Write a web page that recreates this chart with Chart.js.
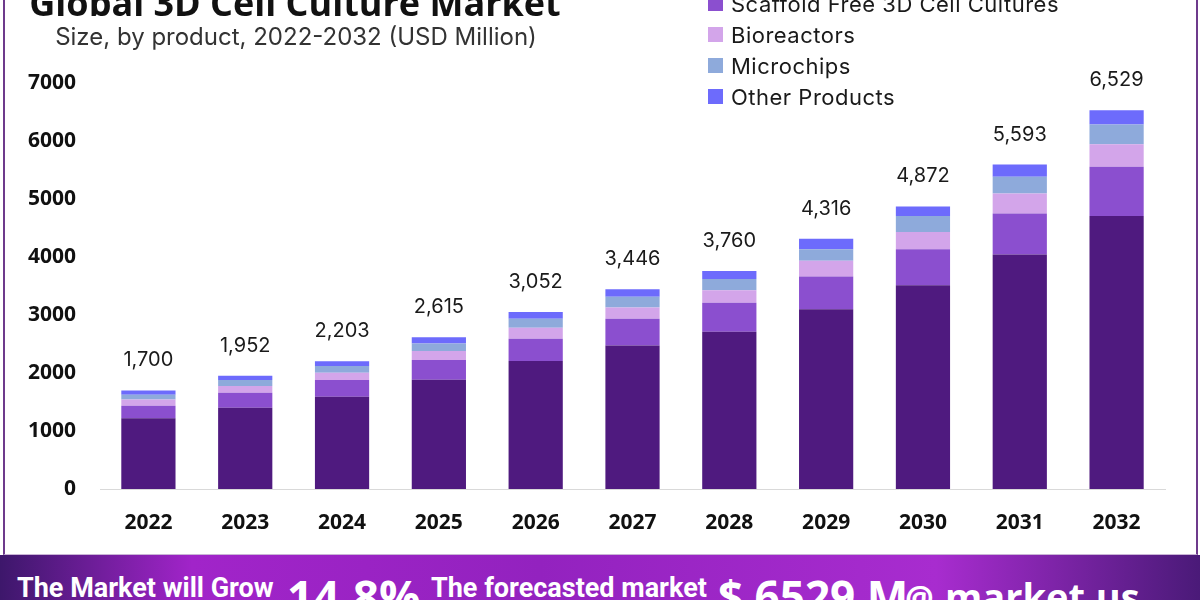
<!DOCTYPE html>
<html>
<head>
<meta charset="utf-8">
<script src="https://cdn.jsdelivr.net/npm/chart.js@4.4.1/dist/chart.umd.min.js"></script>
<style>
  html, body { margin: 0; padding: 0; background: #fff; }
  body { width: 1200px; height: 600px; position: relative; overflow: hidden; }
  #frame { position: absolute; left: 3px; top: 0; width: 1191px; height: 554px;
           border-left: 2px solid #6e3a8c; border-right: 2px solid #6e3a8c;
           border-bottom: 1px solid #c9b4d6; }
  #wrap { position: absolute; left: 0; top: 0; width: 1200px; height: 555px; }
  #title { position: absolute; left: 0; width: 590px; top: -22px; text-align: center;
           font: 700 36px "Open Sans", sans-serif; color: #111; white-space: nowrap; }
  #subtitle { position: absolute; left: 0; width: 592px; top: 22px; text-align: center;
              font: 400 24px Inter, sans-serif; color: #333; white-space: nowrap; }
  #legend { position: absolute; left: 708px; top: -43px; }
  .item { height: 31px; display: flex; align-items: center; letter-spacing: 0.5px;
          font: 400 22px Inter, sans-serif; color: #1a1a1a; white-space: nowrap; }
  .sw { width: 15px; height: 15px; margin-right: 8px; }
  #band { position: absolute; left: 0; top: 555px; width: 1200px; height: 45px; overflow: hidden;
          background: linear-gradient(90deg, #3d176b 0%, #a124c9 16%, #9322bf 45%, #a82ccf 78%, #4a1a78 100%); }
  #band span { position: absolute; color: #fff; font-weight: 700; white-space: nowrap; }
</style>
</head>
<body>
<div id="frame"></div>
<div id="wrap"><canvas id="chart" width="1200" height="555"></canvas></div>
<div id="title">Global 3D Cell Culture Market</div>
<div id="subtitle">Size, by product, 2022-2032 (USD Million)</div>
<div id="legend"></div>
<div id="band">
  <span style="left:17px; top:17px; font-family:'Liberation Sans Narrow','Roboto',sans-serif; font-size:27px;">The Market will Grow</span>
  <span style="left:287px; top:18px; font-family:'Open Sans',sans-serif; font-size:46px; line-height:46px;">14.8%</span>
  <span style="left:431px; top:17px; font-family:'Liberation Sans Narrow','Roboto',sans-serif; font-size:27px;">The forecasted market</span>
  <span style="left:718px; top:18px; font-family:'Open Sans',sans-serif; font-size:44px; line-height:46px;">$ 6529 M</span>
  <span style="left:905px; top:20px; font-family:'Open Sans',sans-serif; font-size:32px;">@</span>
  <span style="left:945px; top:15px; font-family:'Open Sans',sans-serif; font-size:38px;">market.us</span>
</div>
<script>
// categories
const years = ['2022', '2023', '2024', '2025', '2026', '2027', '2028', '2029', '2030', '2031', '2032'];

// series (USD Million)
const scaffoldBased = [1220, 1400, 1590, 1885, 2205, 2475, 2713, 3100, 3515, 4045, 4705];
const scaffoldFree  = [215, 260, 290, 340, 385, 460, 500, 565, 620, 705, 850];
const bioreactors   = [110, 115, 125, 155, 190, 195, 212, 270, 295, 345, 390];
const microchips    = [80, 105, 115, 130, 155, 185, 196, 200, 275, 290, 340];
const otherProducts = [75, 72, 83, 105, 117, 131, 139, 181, 167, 208, 244];

// totals printed above each bar
const totals = [1700, 1952, 2203, 2615, 3052, 3446, 3760, 4316, 4872, 5593, 6529];

const seriesNames = ['Scaffold Based 3D Cell Cultures', 'Scaffold Free 3D Cell Cultures', 'Bioreactors', 'Microchips', 'Other Products'];
const seriesColors = ['#4f1a7f', '#8b4fcf', '#d3a5ea', '#8eaadb', '#6d6bfc'];
const seriesData = [scaffoldBased, scaffoldFree, bioreactors, microchips, otherProducts];

// legend drawn as html (top item is cut off by the page edge like the original)
const legendEl = document.getElementById('legend');
seriesNames.forEach((name, i) => {
    const row = document.createElement('div');
    row.className = 'item';
    row.innerHTML = `<span class="sw" style="background:${seriesColors[i]}"></span>${name}`;
    legendEl.appendChild(row);
});

// totals above the stacks
const totalLabels = {
    id: 'totalLabels',
    afterDatasetsDraw(chart) {
        const ctx = chart.ctx;
        const topMeta = chart.getDatasetMeta(chart.data.datasets.length - 1);
        ctx.save();
        ctx.font = '400 20px Inter, sans-serif';
        ctx.fillStyle = '#1a1a1a';
        ctx.textAlign = 'center';
        ctx.textBaseline = 'middle';
        topMeta.data.forEach((bar, i) => {
            ctx.fillText(totals[i].toLocaleString('en-US'), bar.x, bar.y - 30);
        });
        ctx.restore();
    }
};

const ctx = document.getElementById('chart').getContext('2d');
new Chart(ctx, {
    type: 'bar',
    data: {
        labels: years,
        datasets: seriesData.map((d, i) => ({
            label: seriesNames[i],
            data: d,
            backgroundColor: seriesColors[i],
            borderWidth: 0,
            barPercentage: 0.56,
            categoryPercentage: 1.0
        }))
    },
    options: {
        responsive: false,
        animation: false,
        layout: { padding: { left: 0, right: 35, top: 83, bottom: 0 } },
        plugins: {
            legend: { display: false },
            tooltip: { enabled: false }
        },
        scales: {
            x: {
                stacked: true,
                grid: { display: false, drawTicks: false },
                border: { display: true, color: '#d9d9d9', width: 1 },
                ticks: { color: '#111', font: { family: 'Open Sans', weight: '700', size: 21 }, padding: 21 },
                afterFit(axis) { axis.height = 66; }
            },
            y: {
                stacked: true,
                min: 0,
                max: 7000,
                grid: { display: false, drawTicks: false },
                border: { display: false },
                ticks: {
                    stepSize: 1000,
                    color: '#111',
                    font: { family: 'Open Sans', weight: '700', size: 21 },
                    padding: 24,
                    callback: (v) => String(v)
                },
                afterFit(axis) { axis.width = 100; }
            }
        }
    },
    plugins: [totalLabels]
});
</script>
</body>
</html>
